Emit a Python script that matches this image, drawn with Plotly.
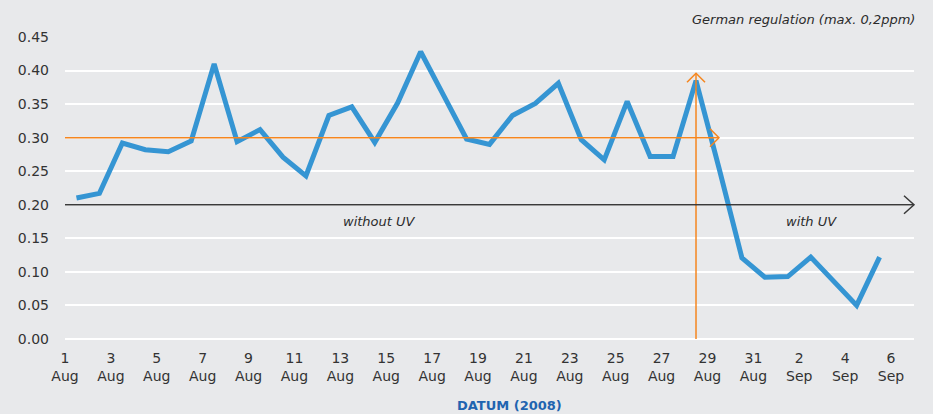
import plotly.graph_objects as go
import pandas as pd

# Data: daily measurements, 1 Aug 2008 - 5 Sep 2008 (plotted at mid-day)
dates = pd.date_range("2008-08-01 12:00", "2008-09-05 12:00", freq="D")
values = [0.210, 0.217, 0.292, 0.282, 0.279, 0.295, 0.410, 0.294, 0.312, 0.271,
          0.243, 0.333, 0.346, 0.293, 0.352, 0.428, 0.363, 0.298, 0.290, 0.333,
          0.351, 0.381, 0.297, 0.267, 0.354, 0.272, 0.272, 0.385, 0.255, 0.121,
          0.092, 0.093, 0.122, 0.086, 0.050, 0.122]

tick_dates = pd.date_range("2008-08-01", "2008-09-06", freq="2D")
tick_labels = [f"{d.day}<br>{d.strftime('%b')}" for d in tick_dates]
y_ticks = [0.0, 0.05, 0.10, 0.15, 0.20, 0.25, 0.30, 0.35, 0.40, 0.45]

limit_value = 0.30
split_value = 0.20
switch_date = "2008-08-28 12:00"
limit_end = "2008-08-29 12:00"
switch_top = 0.396

BG = "#e8e9eb"
BLUE = "#3595d3"
ORANGE = "#f5861f"
TXT = "#333333"
FONT = "DejaVu Sans"

fig = go.Figure()
fig.add_trace(go.Scatter(x=dates, y=values, mode="lines",
                         line=dict(color=BLUE, width=5, shape="linear"),
                         hoverinfo="skip", showlegend=False))

shapes = []
# orange limit line at 0.30
shapes.append(dict(type="line", xref="x", yref="y", x0="2008-08-01", x1=limit_end,
                   y0=limit_value, y1=limit_value, line=dict(color=ORANGE, width=1.5), layer="above"))
shapes.append(dict(type="path", xref="x", yref="y", xsizemode="pixel", ysizemode="pixel",
                   xanchor=limit_end, yanchor=limit_value,
                   path="M -9 9 L 0 0 L -9 -9", line=dict(color=ORANGE, width=1.5)))
# orange vertical switch line
shapes.append(dict(type="line", xref="x", yref="y", x0=switch_date, x1=switch_date,
                   y0=0, y1=switch_top, line=dict(color=ORANGE, width=1.5), layer="above"))
shapes.append(dict(type="path", xref="x", yref="y", xsizemode="pixel", ysizemode="pixel",
                   xanchor=switch_date, yanchor=switch_top,
                   path="M -9 -9 L 0 0 L 9 -9", line=dict(color=ORANGE, width=1.5)))
# black split arrow at 0.20
shapes.append(dict(type="line", xref="paper", yref="y", x0=0, x1=1,
                   y0=split_value, y1=split_value, line=dict(color="#3a3a3a", width=1.5), layer="above"))
shapes.append(dict(type="path", xref="paper", yref="y", xsizemode="pixel", ysizemode="pixel",
                   xanchor=1, yanchor=split_value,
                   path="M -10 9 L 0 0 L -10 -9", line=dict(color="#3a3a3a", width=1.5)))

annotations = [
    dict(text="<i>German regulation (max. 0,2ppm)</i>", xref="paper", yref="paper",
         x=1.003, y=1.0, yshift=18, xanchor="right", yanchor="middle", showarrow=False,
         font=dict(family=FONT, size=13, color="#2b2b2b")),
    dict(text="<i>without UV</i>", xref="x", yref="y", x="2008-08-14 17:00", y=0.175,
         showarrow=False, font=dict(family=FONT, size=13, color="#2b2b2b")),
    dict(text="<i>with UV</i>", xref="x", yref="y", x="2008-09-02 13:00", y=0.175,
         showarrow=False, font=dict(family=FONT, size=13, color="#2b2b2b")),
    dict(text="<b>DATUM (2008)</b>", xref="paper", yref="paper", x=0.524, y=0,
         yshift=-66, xanchor="center", yanchor="middle", showarrow=False,
         font=dict(family=FONT, size=13, color="#1f64b0")),
]

fig.update_layout(
    width=933, height=414,
    paper_bgcolor=BG, plot_bgcolor=BG,
    margin=dict(l=65, r=19, t=37, b=75, autoexpand=False),
    font=dict(family=FONT, size=14, color=TXT),
    shapes=shapes, annotations=annotations,
    showlegend=False,
)
fig.update_xaxes(range=["2008-08-01", "2008-09-07"], tickvals=tick_dates, ticktext=tick_labels,
                 showgrid=False, zeroline=False, showline=False, ticks="",
                 automargin=False, ticklabelstandoff=9,
                 tickfont=dict(family=FONT, size=14, color=TXT))
fig.update_yaxes(range=[0, 0.45], tickvals=y_ticks, tickformat=".2f",
                 showgrid=True, gridcolor="#ffffff", gridwidth=1.5,
                 zeroline=True, zerolinecolor="#ffffff", zerolinewidth=1.5,
                 showline=False, ticks="", ticklabelstandoff=15, automargin=False,
                 tickfont=dict(family=FONT, size=14, color=TXT))

fig.write_html("out.html", config={"displayModeBar": False},
               post_script="document.body.style.margin='0';document.body.style.overflow='hidden';")
